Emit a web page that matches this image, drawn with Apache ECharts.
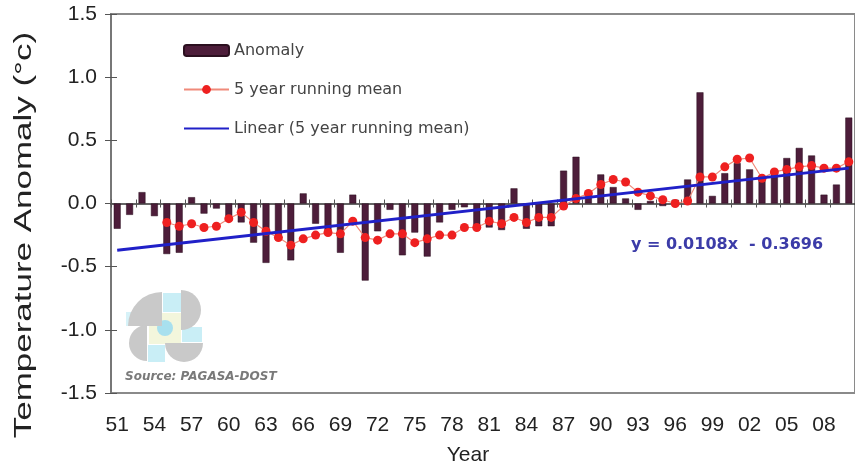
<!DOCTYPE html>
<html><head><meta charset="utf-8">
<script src="https://cdn.jsdelivr.net/npm/echarts@6/dist/echarts.min.js"></script>
<style>html,body{margin:0;padding:0;background:#fff}#c{width:855px;height:470px}</style>
</head><body><div id="c"></div><script>
const years = ['51','52','53','54','55','56','57','58','59','60','61','62','63','64','65','66','67','68','69','70',
  '71','72','73','74','75','76','77','78','79','80','81','82','83','84','85','86','87','88','89','90',
  '91','92','93','94','95','96','97','98','99','00','01','02','03','04','05','06','07','08','09','10'];
const anomaly = [-0.20,-0.09,0.09,-0.10,-0.40,-0.39,0.05,-0.08,-0.04,-0.10,-0.15,-0.31,-0.47,-0.29,-0.45,0.08,-0.16,-0.24,-0.39,0.07,
  -0.61,-0.22,-0.05,-0.41,-0.23,-0.42,-0.15,-0.05,-0.03,-0.18,-0.19,-0.21,0.12,-0.20,-0.18,-0.18,0.26,0.37,0.05,0.23,
  0.13,0.04,-0.05,0.02,-0.02,0.03,0.19,0.88,0.06,0.24,0.32,0.27,0.19,0.25,0.36,0.44,0.38,0.07,0.15,0.68];
const runningMean = [null,null,null,null,-0.15,-0.18,-0.16,-0.19,-0.18,-0.12,-0.07,-0.15,-0.22,-0.27,-0.33,-0.28,-0.25,-0.23,-0.24,-0.14,
  -0.27,-0.29,-0.24,-0.24,-0.31,-0.28,-0.25,-0.25,-0.19,-0.19,-0.14,-0.16,-0.11,-0.15,-0.11,-0.11,-0.02,0.04,0.08,0.15,
  0.19,0.17,0.09,0.06,0.03,0.00,0.02,0.21,0.21,0.29,0.35,0.36,0.20,0.25,0.27,0.29,0.30,0.28,0.28,0.33];
const trendEnds = [-0.37, 0.28];
const yMin = -1.5, yMax = 1.5, yStep = 0.5;
const seriesNames = ['Anomaly', '5 year running mean', 'Linear (5 year running mean)'];
const equationText = 'y = 0.0108x  - 0.3696';
const sourceText = 'Source: PAGASA-DOST';

const chart = echarts.init(document.getElementById('c'));
const FONT = '"Liberation Sans", Arial, sans-serif';
const xBase = {type:'category', data: years, boundaryGap: true};
chart.setOption({
  animation: false,
  backgroundColor: '#fff',
  grid: {left: 111, top: 14, width: 750, height: 379, show: true, borderColor: '#8a8a8a', borderWidth: 2, containLabel: false},
  legend: {
    orient: 'vertical', left: 183, top: 41, padding: 0, itemGap: 20, itemWidth: 45, itemHeight: 11,
    textStyle: {fontFamily: '"DejaVu Sans", sans-serif', fontSize: 16, color: '#444', lineHeight: 19},
    data: [
      {name: seriesNames[0]},
      {name: seriesNames[1]},
      {name: seriesNames[2], itemStyle: {color: 'rgba(0,0,0,0)', borderWidth: 0}}
    ]
  },
  xAxis: [
    Object.assign({}, xBase, {position: 'bottom', axisLine: {show: false, onZero: false}, axisTick: {show: false},
      axisLabel: {interval: 2, margin: 22, fontSize: 21, fontFamily: FONT, color: '#222'}}),
    Object.assign({}, xBase, {position: 'bottom', axisLine: {show: true, onZero: true, lineStyle: {color: '#333', width: 1.5}},
      axisTick: {show: true, length: 4, lineStyle: {color: '#555'}}, axisLabel: {show: false}}),
    Object.assign({}, xBase, {position: 'bottom', axisLine: {show: false, onZero: true},
      axisTick: {show: true, inside: true, length: 4, lineStyle: {color: '#555'}}, axisLabel: {show: false}})
  ],
  yAxis: [
    {type: 'value', min: yMin, max: yMax, interval: yStep, position: 'left',
      axisLine: {show: true, lineStyle: {color: '#777', width: 2}},
      axisTick: {show: true, length: 6, lineStyle: {color: '#555'}},
      splitLine: {show: false},
      axisLabel: {margin: 14, fontSize: 21, fontFamily: FONT, color: '#222', formatter: v => v.toFixed(1)}},
    {type: 'value', min: yMin, max: yMax, interval: yStep, position: 'left',
      axisLine: {show: false}, axisTick: {show: true, inside: true, length: 6, lineStyle: {color: '#555'}},
      splitLine: {show: false}, axisLabel: {show: false}}
  ],
  series: [
    {name: seriesNames[0], type: 'bar', data: anomaly, barWidth: '56%',
      itemStyle: {color: '#4d1d3a', borderColor: '#2b0f1f', borderWidth: 0.5}},
    {name: seriesNames[1], type: 'line', data: runningMean, symbol: 'circle', symbolSize: 9, showAllSymbol: true,
      lineStyle: {color: '#f08a7a', width: 1.2}, itemStyle: {color: '#ee2020'}, z: 3},
    {name: seriesNames[2], type: 'line', data: [[years[0], trendEnds[0]], [years[years.length - 1], trendEnds[1]]],
      symbol: 'none', lineStyle: {color: '#2020c8', width: 3}, itemStyle: {color: '#2020c8'}, z: 4}
  ],
  graphic: [
    {type: 'text', x: 25, y: 235, rotation: Math.PI / 2, scaleX: 1.52,
      style: {text: 'Temperature Anomaly (°c)', fontSize: 23, fontFamily: FONT, fill: '#222', align: 'center', verticalAlign: 'middle'}},
    {type: 'text', x: 468, y: 455,
      style: {text: 'Year', fontSize: 21, fontFamily: FONT, fill: '#222', align: 'center', verticalAlign: 'middle'}},
    {type: 'text', x: 727, y: 245,
      style: {text: equationText, fontSize: 16, fontWeight: 'bold', fontFamily: '"DejaVu Sans", sans-serif', fill: '#3c3ca8', align: 'center', verticalAlign: 'middle'}},
    {type: 'text', x: 125, y: 377,
      style: {text: sourceText, fontSize: 12, fontWeight: 'bold', fontStyle: 'italic', fontFamily: '"DejaVu Sans", sans-serif', fill: '#7a7a7a', align: 'left', verticalAlign: 'middle'}},
    {type: 'group', children: [
      {type: 'rect', shape: {x: 163, y: 293, width: 18, height: 19}, style: {fill: '#c9eef6'}},
      {type: 'rect', shape: {x: 148, y: 345, width: 17, height: 17}, style: {fill: '#c9eef6'}},
      {type: 'rect', shape: {x: 182, y: 327, width: 20, height: 15}, style: {fill: '#c9eef6'}},
      {type: 'rect', shape: {x: 126, y: 312, width: 22, height: 14}, style: {fill: '#d7f2f8'}},
      {type: 'rect', shape: {x: 149, y: 313, width: 32, height: 31}, style: {fill: '#f3f6dc'}},
      {type: 'circle', shape: {cx: 165, cy: 328, r: 8}, style: {fill: '#a8e0ee'}},
      {type: 'sector', shape: {cx: 162, cy: 326, r: 34, r0: 0, startAngle: Math.PI, endAngle: Math.PI * 1.5}, style: {fill: '#c9c9c9'}},
      {type: 'sector', shape: {cx: 181, cy: 310, r: 20, r0: 0, startAngle: -Math.PI / 2, endAngle: Math.PI / 2}, style: {fill: '#c9c9c9'}},
      {type: 'sector', shape: {cx: 147, cy: 343, r: 18, r0: 0, startAngle: Math.PI / 2, endAngle: Math.PI * 1.5}, style: {fill: '#c9c9c9'}},
      {type: 'sector', shape: {cx: 184, cy: 343, r: 19, r0: 0, startAngle: 0, endAngle: Math.PI}, style: {fill: '#c9c9c9'}}
    ]}
  ]
});
</script></body></html>
